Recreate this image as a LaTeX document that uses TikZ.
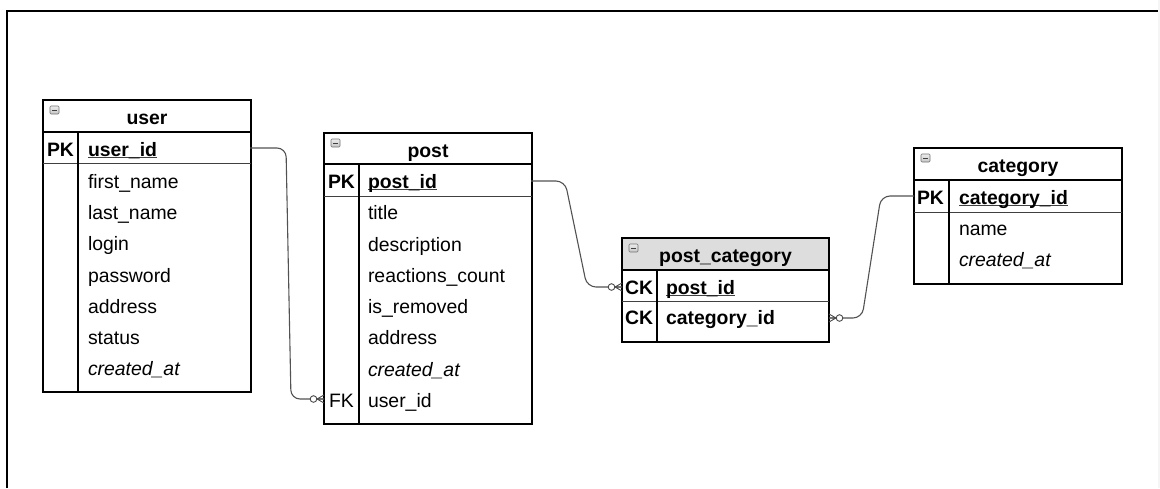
\documentclass[tikz,border=0pt]{standalone}
\usepackage{fontspec}
\setmainfont{Liberation Sans}
\newcommand\erfont{\fontsize{19.4}{23}\selectfont}
% key column names: bold, with a thin rule close under the baseline
\newcommand\keyname[1]{\setbox0\hbox{#1}\rlap{\color{black!75}\rule[-2.4pt]{\wd0}{1.1pt}}\box0}
\begin{document}
\begin{tikzpicture}[x=1pt,y=-1pt,
  every node/.style={inner sep=0pt, outer sep=0pt, font=\erfont},
  frameline/.style={line width=1.8pt},
  tblbox/.style={draw, line width=2pt, anchor=north west, fill=white},
  hdrline/.style={line width=2pt},
  rowline/.style={line width=1pt, black!75},
  colline/.style={line width=2pt},
  rowarea/.style={anchor=west, minimum height=30, minimum width=207},
  title/.style={anchor=base, font=\erfont\bfseries},
  keytag/.style={anchor=base west, font=\erfont\bfseries},
  fktag/.style={anchor=base west},
  field/.style={anchor=base west},
  pkfield/.style={anchor=base west, font=\erfont\bfseries},
  datefield/.style={anchor=base west, font=\erfont\itshape},
  link/.style={draw=black!68, line width=1.1pt, rounded corners=9pt},
  icon/.pic={
    \draw[black!55, line width=0.6pt, top color=gray!15, bottom color=gray!45, rounded corners=1pt] (0,0) rectangle (9,8);
    \draw[black!75, line width=1pt] (2.3,4) -- (6.7,4);
  },
  zeromany/.pic={
    \draw[black!70, line width=0.9pt] (-7,0) -- (0,-4) (-7,0) -- (0,0) (-7,0) -- (0,4);
    \draw[black!70, line width=0.9pt, fill=white] (-10.5,0) circle (3.3);
  },
]
\useasboundingbox (0,0) rectangle (1160,488);
\fill[black!4] (1158,0) rectangle (1160,488);
\draw[frameline] (7,488) -- (7,11) -- (1158,11);

% ---------- user ----------
\node[tblbox, minimum width=208, minimum height=292] (user) at (43,100) {};
\draw[hdrline] (43,132) -- (251,132);
\draw[rowline] (43,163) -- (251,163);
\draw[colline] (78,132) -- (78,392);
\pic at (50,106) {icon};
\node[title] (user-t) at (147,124) {user};
\node[rowarea] (u-pk) at (43,148) {};
\node[keytag] (u-pkk) at (47,156) {PK};
\node[pkfield] (u-id) at (88,156) {\keyname{user\_id}};
\node[field] (u-f1) at (88,188) {first\_name};
\node[field] (u-f2) at (88,219) {last\_name};
\node[field] (u-f3) at (88,250) {login};
\node[field] (u-f4) at (88,282) {password};
\node[field] (u-f5) at (88,313) {address};
\node[field] (u-f6) at (88,344) {status};
\node[datefield] (u-f7) at (88,375) {created\_at};

% ---------- post ----------
\node[tblbox, minimum width=208, minimum height=291] (post) at (324,133) {};
\draw[hdrline] (324,164) -- (532,164);
\draw[rowline] (324,196) -- (532,196);
\draw[colline] (359,164) -- (359,424);
\pic at (331,139) {icon};
\node[title] (post-t) at (428,157) {post};
\node[rowarea] (p-pk) at (324,181) {};
\node[keytag] (p-pkk) at (328,188) {PK};
\node[pkfield] (p-id) at (368,188) {\keyname{post\_id}};
\node[field] (p-f1) at (368,219) {title};
\node[field] (p-f2) at (368,251) {description};
\node[field] (p-f3) at (368,282) {reactions\_count};
\node[field] (p-f4) at (368,313) {is\_removed};
\node[field] (p-f5) at (368,344) {address};
\node[datefield] (p-f6) at (368,376) {created\_at};
\node[rowarea] (p-fk) at (324,399) {};
\node[fktag] (p-fkk) at (329,407) {FK};
\node[field] (p-f7) at (368,407) {user\_id};

% ---------- post_category ----------
\node[tblbox, minimum width=207, minimum height=104] (pcat) at (622,238) {};
\fill[gray!27] (623,239) rectangle (828,270);
\draw[line width=2pt] (622,238) rectangle (829,342);
\draw[hdrline] (622,270) -- (829,270);
\draw[rowline] (622,301) -- (829,301);
\draw[colline] (657,270) -- (657,342);
\pic at (629,244) {icon};
\node[title] (pc-t) at (725.5,262) {post\_category};
\node[rowarea] (pc-post) at (622,287) {};
\node[keytag] (pc-k1) at (625,294) {CK};
\node[pkfield] (pc-f1) at (666,294) {\keyname{post\_id}};
\node[rowarea] (pc-cat) at (622,318) {};
\node[keytag] (pc-k2) at (625,324) {CK};
\node[pkfield] (pc-f2) at (666,324) {category\_id};

% ---------- category ----------
\node[tblbox, minimum width=208, minimum height=136] (cat) at (914,148) {};
\draw[hdrline] (914,180) -- (1122,180);
\draw[rowline] (914,212) -- (1122,212);
\draw[colline] (949,180) -- (949,284);
\pic at (921,154) {icon};
\node[title] (cat-t) at (1018,172) {category};
\node[rowarea] (c-pk) at (914,196) {};
\node[keytag] (c-pkk) at (917,204) {PK};
\node[pkfield] (c-id) at (959,204) {\keyname{category\_id}};
\node[field] (c-f1) at (959,235) {name};
\node[datefield] (c-f2) at (959,266) {created\_at};

% ---------- relationships ----------
\draw[link] (u-pk.east) -- (286,148) -- (291,399) -- (p-fk.west);
\pic at (p-fk.west) {zeromany};
\draw[link] (p-pk.east) -- (565,181) -- (587,287) -- (pc-post.west);
\pic at (pc-post.west) {zeromany};
\draw[link] (pc-cat.east) -- (862,318) -- (881,196) -- (c-pk.west);
\pic[rotate=180] at (pc-cat.east) {zeromany};
\end{tikzpicture}
\end{document}
